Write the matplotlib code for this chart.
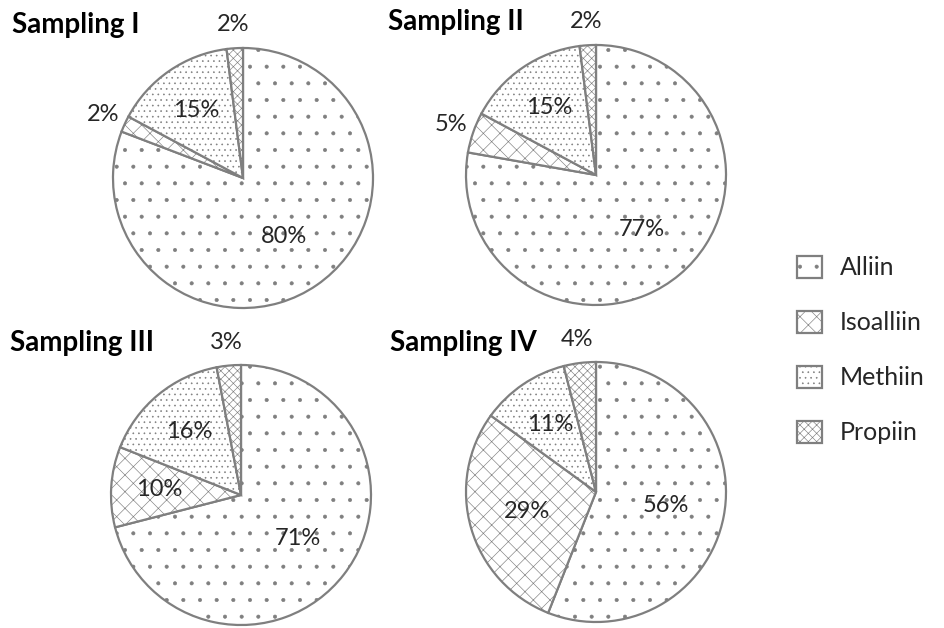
import numpy as np
import matplotlib
matplotlib.use("Agg")
from matplotlib import pyplot as plt

# composition of the four samplings (percent)
compounds = ["Alliin", "Isoalliin", "Methiin", "Propiin"]
titles = ["Sampling I", "Sampling II", "Sampling III", "Sampling IV"]
sampling_1 = [80, 2, 15, 2]
sampling_2 = [77, 5, 15, 2]
sampling_3 = [71, 10, 16, 3]
sampling_4 = [56, 29, 11, 4]
samplings = [sampling_1, sampling_2, sampling_3, sampling_4]

hatches = [".", "xx", "...", "xxxx"]
gray = "#7f7f7f"

plt.rcParams["font.family"] = ["Lato", "DejaVu Sans"]
plt.rcParams["hatch.linewidth"] = 0.45

W, H = 945, 628
fig = plt.figure(figsize=(W / 100, H / 100), dpi=100)

# pie centres in pixels, radius in pixels
centres = [(243, 178), (596, 175), (241, 495), (596, 492)]
title_pos = [(12, 25), (388, 22), (10, 343), (390, 343)]
R = 130

wedges_first = None
for vals, title, (cx, cy), (tx, ty) in zip(samplings, titles, centres, title_pos):
    ax = fig.add_axes([(cx - R) / W, 1 - (cy + R) / H, 2 * R / W, 2 * R / H])
    wedges, _ = ax.pie(vals, startangle=90, counterclock=False, radius=1,
                       wedgeprops=dict(facecolor="white", edgecolor=gray, linewidth=1.6))
    for w, h in zip(wedges, hatches):
        w.set_hatch(h)
    # percentage labels: small slices outside, others inside
    for w, v in zip(wedges, vals):
        ang = np.deg2rad((w.theta1 + w.theta2) / 2)
        if v <= 5:
            d = 1.18
        elif v < 20:
            d = 0.63
        else:
            d = 0.55
        ax.text(d * np.cos(ang), d * np.sin(ang), f"{v}%", ha="center", va="center",
                fontsize=17, color="#262626", clip_on=False)
    ax.set_xlim(-1, 1)
    ax.set_ylim(-1, 1)
    ax.axis("off")
    fig.text(tx / W, 1 - ty / H, title, fontsize=20, fontweight="bold",
             ha="left", va="center", color="black")
    if wedges_first is None:
        wedges_first = wedges

fig.legend(wedges_first, compounds, loc="upper left",
           bbox_to_anchor=(775 / W, 1 - 233 / H), frameon=False,
           fontsize=18, handlelength=1.0, handleheight=1.0,
           labelspacing=1.25, handletextpad=0.7, labelcolor="#262626")

fig.savefig("out.png", dpi=100)
